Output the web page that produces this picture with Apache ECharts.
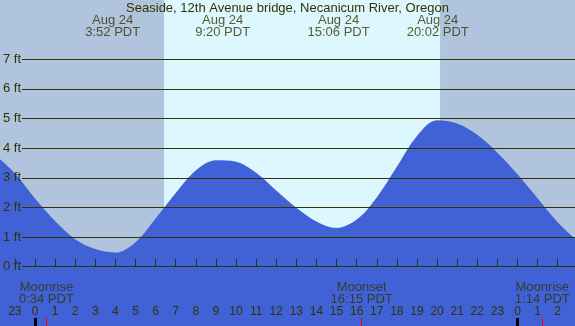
<!DOCTYPE html>
<html>
<head>
<meta charset="utf-8">
<script src="https://cdn.jsdelivr.net/npm/echarts@6/dist/echarts.min.js"></script>
<style>
  html, body { margin: 0; padding: 0; }
  #main { width: 575px; height: 326px; }
</style>
</head>
<body>
<div id="main"></div>
<script>
// tide curve (hour of day, feet)
var hours   = [-2, -1, 0, 1, 2, 3, 4, 5, 6, 7, 8, 9, 10, 11, 12, 13, 14, 15, 16, 17, 18, 19, 20, 21, 22, 23, 24, 25, 26, 27];
var heights = [3.78, 3.15, 2.30, 1.54, 0.93, 0.60, 0.48, 0.83, 1.63, 2.49, 3.25, 3.59, 3.54, 3.17, 2.57, 1.99, 1.53, 1.31, 1.59, 2.34, 3.37, 4.41, 4.94, 4.83, 4.45, 3.85, 3.12, 2.31, 1.50, 0.86];

// high / low tide labels
var tideTimes = [3.867, 9.333, 15.1, 20.033];
var tideDates = ['Aug 24', 'Aug 24', 'Aug 24', 'Aug 24'];
var tideTexts = ['3:52 PDT', '9:20 PDT', '15:06 PDT', '20:02 PDT'];

// moon events
var moonTimes = [0.567, 16.25, 25.233];
var moonNames = ['Moonrise', 'Moonset', 'Moonrise'];
var moonTexts = ['0:34 PDT', '16:15 PDT', '1:14 PDT'];

// daylight
var sunrise = 6.42, sunset = 20.15;
var feetLevels = [0, 1, 2, 3, 4, 5, 6, 7];
var midnights = [0, 24];

var ink = '#333300';
var font = 'Liberation Sans';
var lineStart = -0.65;   // gridlines begin right of the ft labels
var tickTop = -1.73;
var tideLabelY = 8.12;
var moonLabelY = -0.9;

var myChart = echarts.init(document.getElementById('main'));

var option = {
  animation: false,
  backgroundColor: '#b0c4de',
  title: {
    text: 'Seaside, 12th Avenue bridge, Necanicum River, Oregon',
    left: 'center',
    top: 2,
    padding: 0,
    textStyle: { fontFamily: font, fontSize: 13, fontWeight: 'normal', color: ink }
  },
  grid: { left: -5.23, right: -2.8, top: 0, bottom: 0, containLabel: false, outerBoundsMode: 'none' },
  xAxis: {
    type: 'value',
    min: -2,
    max: 27,
    interval: 1,
    z: 5,
    axisLine: { show: false },
    splitLine: { show: false },
    axisTick: { inside: true, length: 8, lineStyle: { color: ink, width: 1 } },
    axisLabel: {
      inside: true,
      margin: 8,
      fontFamily: font,
      fontSize: 12,
      color: ink,
      showMinLabel: false,
      showMaxLabel: true,
      formatter: function (v) { return String(((v % 24) + 24) % 24); }
    }
  },
  yAxis: {
    type: 'value',
    min: -2,
    max: 9,
    interval: 1,
    z: 5,
    axisLine: { show: false },
    axisTick: { show: false },
    splitLine: { show: false },
    axisLabel: {
      inside: true,
      margin: 8.2,
      fontFamily: font,
      fontSize: 13,
      color: ink,
      formatter: function (v) { return (v >= 0 && v <= 7) ? v + ' ft' : ''; }
    }
  },
  series: [
    {
      type: 'line',
      z: 1,
      data: [],
      silent: true,
      markArea: {
        silent: true,
        itemStyle: { color: '#ddf7ff' },
        data: [[{ xAxis: sunrise }, { xAxis: sunset }]]
      }
    },
    {
      type: 'line',
      z: 2,
      smooth: 0.35,
      symbol: 'none',
      silent: true,
      lineStyle: { width: 0 },
      areaStyle: { color: '#4162d6', opacity: 1, origin: 'start' },
      data: hours.map(function (h, i) { return [h, heights[i]]; })
    },
    {
      type: 'line',
      z: 3,
      data: [],
      silent: true,
      markLine: {
        silent: true,
        symbol: 'none',
        label: { show: false },
        data: feetLevels.map(function (f) {
          return [{ coord: [lineStart, f] }, { coord: [27, f] }];
        }).concat(midnights.map(function (m) {
          return [{ coord: [m, -2], lineStyle: { color: '#000', width: 3 } },
                  { coord: [m, tickTop] }];
        })).concat(moonTimes.map(function (m) {
          return [{ coord: [m, -2], lineStyle: { color: '#ff0000', width: 1 } },
                  { coord: [m, tickTop] }];
        })),
        lineStyle: { color: ink, width: 1, type: 'solid' }
      }
    },
    {
      type: 'scatter',
      z: 6,
      symbolSize: 0,
      silent: true,
      label: {
        show: true,
        position: 'inside',
        fontFamily: font,
        fontSize: 13,
        lineHeight: 12,
        color: ink,
        formatter: function (p) { return p.data.text; }
      },
      data: tideTimes.map(function (t, i) {
        return { value: [t, tideLabelY], text: tideDates[i] + '\n' + tideTexts[i] };
      }).concat(moonTimes.map(function (t, i) {
        return { value: [t, moonLabelY], text: moonNames[i] + '\n' + moonTexts[i] };
      }))
    }
  ]
};
myChart.setOption(option);
</script>
</body>
</html>
